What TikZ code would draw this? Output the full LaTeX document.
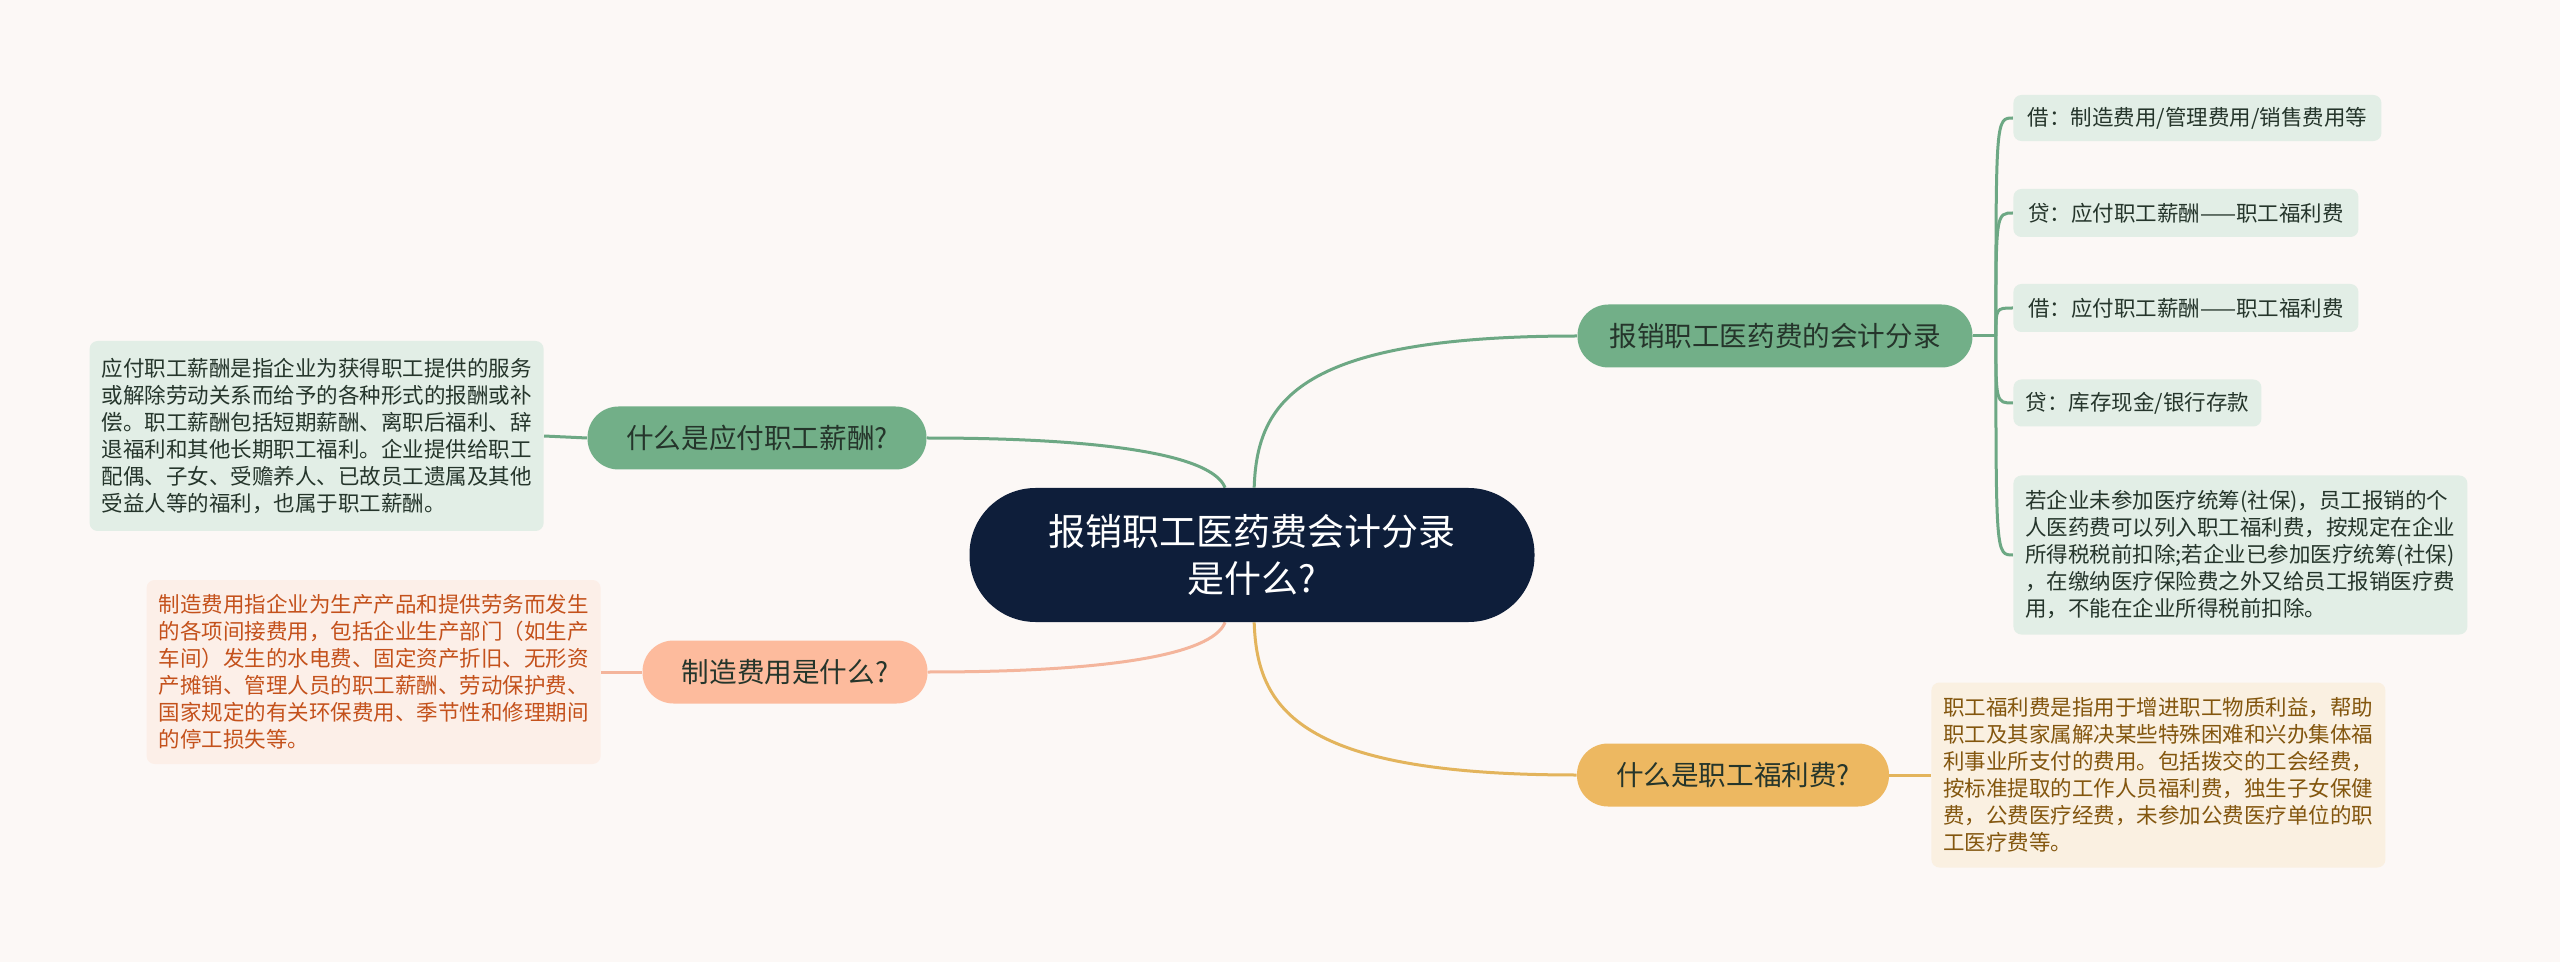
\documentclass[tikz,border=0pt]{standalone}
\usepackage{fontspec}
\newfontfamily\cjk{Noto Sans CJK SC}
\usetikzlibrary{calc,backgrounds}
\definecolor{paper}{HTML}{FCF8F6}
\definecolor{navy}{HTML}{0E1E3A}
\definecolor{sage}{HTML}{72AF88}
\definecolor{sageline}{HTML}{6DA884}
\definecolor{sageleaf}{HTML}{E2EEE6}
\definecolor{sagetext}{HTML}{25352B}
\definecolor{peach}{HTML}{FDBB9D}
\definecolor{peachline}{HTML}{F4B59C}
\definecolor{peachleaf}{HTML}{FCEFE8}
\definecolor{peachtext}{HTML}{C4511B}
\definecolor{honey}{HTML}{EDB861}
\definecolor{honeyline}{HTML}{E3B45C}
\definecolor{honeyleaf}{HTML}{FAF0E1}
\definecolor{honeytext}{HTML}{83560E}

\begin{document}
\begin{tikzpicture}[x=0.5pt, y=-0.5pt,
    root/.style={fill=navy, text=white, rounded corners=33pt, minimum width=282.5pt, minimum height=67pt,
        align=center, inner sep=0pt, font=\cjk\fontsize{18.5}{23.5}\selectfont},
    topic/.style={text=sagetext, rounded corners=15.5pt, minimum height=31.5pt, inner sep=0pt,
        font=\cjk\fontsize{13.8}{16}\selectfont},
    leaf/.style={rounded corners=4pt, inner xsep=6pt, inner ysep=6pt, align=left,
        font=\cjk\fontsize{10.75}{13.5}\selectfont},
    wire/.style={line width=1.5pt}]
    \useasboundingbox (0,0) rectangle (2560,962);
    % Root
    \node[root] (root) at (1252,555) {报销职工医药费会计分录\\是什么?};
    % Branches
    \node[topic, fill=sage, minimum width=197.5pt] (entry) at (1775,336) {报销职工医药费的会计分录};
    \node[topic, fill=sage, minimum width=169.5pt] (pay) at (757,438) {什么是应付职工薪酬?};
    \node[topic, fill=peach, minimum width=142.5pt] (cost) at (785,672) {制造费用是什么?};
    \node[topic, fill=honey, minimum width=156pt] (welfare) at (1733,775) {什么是职工福利费?};
    % Leaves - entry
    \node[leaf, fill=sageleaf, text=sagetext, anchor=west, minimum width=184pt, minimum height=22.5pt] (e1) at (2013,118) {借：制造费用/管理费用/销售费用等};
    \node[leaf, fill=sageleaf, text=sagetext, anchor=west, minimum width=172.5pt, minimum height=24pt] (e2) at (2013,213) {贷：应付职工薪酬——职工福利费};
    \node[leaf, fill=sageleaf, text=sagetext, anchor=west, minimum width=172.5pt, minimum height=24pt] (e3) at (2013,308) {借：应付职工薪酬——职工福利费};
    \node[leaf, fill=sageleaf, text=sagetext, anchor=west, minimum width=124pt, minimum height=23.5pt] (e4) at (2013,403) {贷：库存现金/银行存款};
    \node[leaf, fill=sageleaf, text=sagetext, anchor=west, minimum width=226.5pt, minimum height=79.5pt] (e5) at (2013,555) {若企业未参加医疗统筹(社保)，员工报销的个\\人医药费可以列入职工福利费，按规定在企业\\所得税税前扣除;若企业已参加医疗统筹(社保)\\，在缴纳医疗保险费之外又给员工报销医疗费\\用，不能在企业所得税前扣除。};
    % Leaves - descriptions
    \node[leaf, fill=sageleaf, text=sagetext, anchor=east, minimum width=225.5pt, minimum height=95pt] (payd) at (544,436) {应付职工薪酬是指企业为获得职工提供的服务\\或解除劳动关系而给予的各种形式的报酬或补\\偿。职工薪酬包括短期薪酬、离职后福利、辞\\退福利和其他长期职工福利。企业提供给职工\\配偶、子女、受赡养人、已故员工遗属及其他\\受益人等的福利，也属于职工薪酬。};
    \node[leaf, fill=peachleaf, text=peachtext, anchor=east, minimum width=227pt, minimum height=92pt] (costd) at (601,672) {制造费用指企业为生产产品和提供劳务而发生\\的各项间接费用，包括企业生产部门（如生产\\车间）发生的水电费、固定资产折旧、无形资\\产摊销、管理人员的职工薪酬、劳动保护费、\\国家规定的有关环保费用、季节性和修理期间\\的停工损失等。};
    \node[leaf, fill=honeyleaf, text=honeytext, anchor=west, minimum width=226.5pt, minimum height=92.5pt] (welfared) at (1931,775) {职工福利费是指用于增进职工物质利益，帮助\\职工及其家属解决某些特殊困难和兴办集体福\\利事业所支付的费用。包括拨交的工会经费，\\按标准提取的工作人员福利费，独生子女保健\\费，公费医疗经费，未参加公费医疗单位的职\\工医疗费等。};
    \coordinate (trunk) at ($(entry.east)+(23,0)$);
    % Connectors
    \begin{scope}[on background layer]
        \fill[paper] (0,0) rectangle (2560,962);
        \draw[wire, sageline] (root) .. controls ($(root)+(5,-155)$) and ($(entry.west)+(-277,0)$) .. (entry.west);
        \draw[wire, honeyline] (root) .. controls ($(root)+(5,155)$) and ($(welfare.west)+(-277,0)$) .. (welfare.west);
        \draw[wire, sageline] (root) .. controls ($(root)+(-40,-100)$) and ($(pay.east)+(180,0)$) .. (pay.east);
        \draw[wire, peachline] (root) .. controls ($(root)+(-40,100)$) and ($(cost.east)+(180,0)$) .. (cost.east);
        \draw[wire, sageline] (entry.east) -- (trunk);
        \foreach \n in {e1,e2,e3,e4,e5}
            \draw[wire, sageline] (trunk) .. controls (trunk |- \n.west) .. (\n.west);
        \draw[wire, sageline] (pay.west) -- (payd.east);
        \draw[wire, peachline] (cost.west) -- (costd.east);
        \draw[wire, honeyline] (welfare.east) -- (welfared.west);
    \end{scope}
\end{tikzpicture}
\end{document}
